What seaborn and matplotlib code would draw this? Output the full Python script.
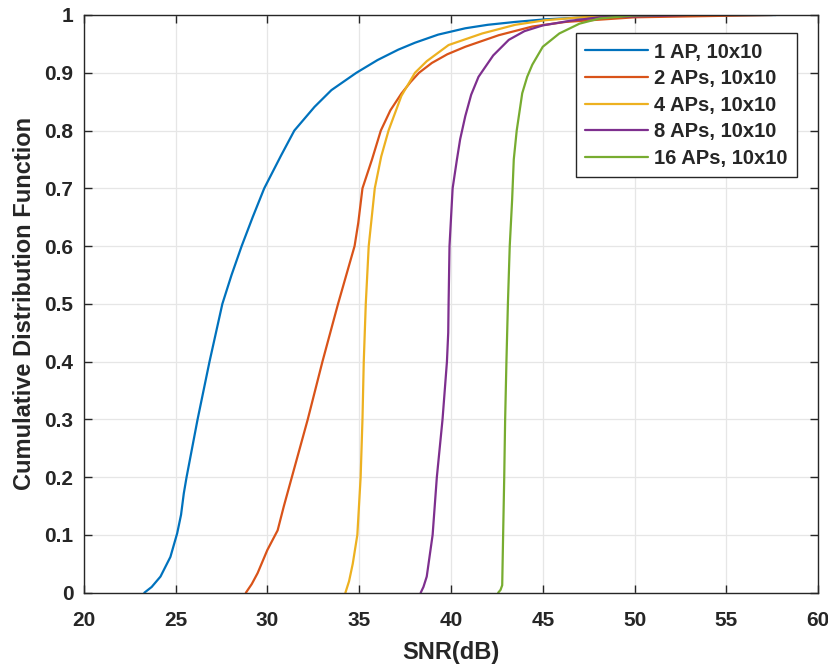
import matplotlib
matplotlib.use("Agg")
import matplotlib.pyplot as plt
import seaborn as sns
import pandas as pd

# ---- data (SNR in dB, CDF level) ----
labels = ["1 AP, 10x10", "2 APs, 10x10", "4 APs, 10x10", "8 APs, 10x10", "16 APs, 10x10"]
colors = ["#0072BD", "#D95319", "#EDB120", "#7E2F8E", "#77AC30"]

snr_1ap = [23.3, 23.7, 24.18, 24.72, 25.09, 25.3, 25.45, 25.6, 26.2, 26.85, 27.55, 28.05, 28.6,
           29.2, 29.83, 30.75, 31.47, 32.57, 33.49, 34.85, 36.0, 37.13, 38.04, 39.3,
           40.78, 42.0, 43.5, 45.15, 48.0, 52.0, 57.7]
cdf_1ap = [0.0, 0.01, 0.028, 0.062, 0.103, 0.135, 0.172, 0.2, 0.3, 0.4, 0.5, 0.55, 0.6,
           0.65, 0.7, 0.757, 0.8, 0.841, 0.87, 0.9, 0.922, 0.94, 0.952, 0.966,
           0.977, 0.983, 0.988, 0.9925, 0.997, 0.999, 1.0]

snr_2ap = [28.83, 29.15, 29.47, 30.0, 30.56, 30.9, 31.29, 32.2, 33.0, 33.85, 34.75, 34.95,
           35.18, 35.7, 36.18, 36.7, 37.3, 37.8, 38.26, 38.96, 39.8, 40.78, 42.6, 44.43,
           46.25, 50.0, 57.5]
cdf_2ap = [0.0, 0.015, 0.034, 0.074, 0.108, 0.15, 0.195, 0.3, 0.4, 0.5, 0.6, 0.64,
           0.7, 0.75, 0.8, 0.835, 0.864, 0.884, 0.9, 0.917, 0.932, 0.945, 0.965, 0.98,
           0.988, 0.996, 1.0]

snr_4ap = [34.25, 34.45, 34.65, 34.9, 35.08, 35.18, 35.25, 35.36, 35.52, 35.85, 36.2, 36.6,
           37.3, 38.04, 38.68, 39.87, 41.7, 43.5, 45.15, 47.5, 51.4]
cdf_4ap = [0.0, 0.02, 0.05, 0.1, 0.2, 0.3, 0.4, 0.5, 0.6, 0.7, 0.755, 0.8,
           0.86, 0.9, 0.92, 0.948, 0.968, 0.983, 0.991, 0.997, 1.0]

snr_8ap = [38.35, 38.5, 38.68, 39.0, 39.23, 39.54, 39.78, 39.85, 39.87, 39.92, 40.09, 40.32,
           40.5, 40.78, 41.1, 41.5, 42.3, 43.15, 44.0, 45.0, 46.5, 48.1, 52.8]
cdf_8ap = [0.0, 0.01, 0.028, 0.1, 0.2, 0.3, 0.4, 0.45, 0.5, 0.6, 0.7, 0.749,
           0.785, 0.825, 0.862, 0.893, 0.93, 0.957, 0.972, 0.982, 0.99, 0.996, 1.0]

snr_16ap = [42.57, 42.7, 42.79, 42.84, 42.9, 42.95, 43.02, 43.1, 43.2, 43.33, 43.42, 43.58,
            43.88, 44.15, 44.43, 45.0, 45.9, 47.0, 48.1, 49.9, 51.4]
cdf_16ap = [0.0, 0.005, 0.013, 0.1, 0.2, 0.3, 0.4, 0.5, 0.6, 0.68, 0.75, 0.8,
            0.8645, 0.893, 0.914, 0.945, 0.968, 0.985, 0.994, 0.999, 1.0]

x_ticks = [20, 25, 30, 35, 40, 45, 50, 55, 60]
y_ticks = [0, 0.1, 0.2, 0.3, 0.4, 0.5, 0.6, 0.7, 0.8, 0.9, 1.0]
y_tick_labels = ["0", "0.1", "0.2", "0.3", "0.4", "0.5", "0.6", "0.7", "0.8", "0.9", "1"]

series = [(snr_1ap, cdf_1ap), (snr_2ap, cdf_2ap), (snr_4ap, cdf_4ap),
          (snr_8ap, cdf_8ap), (snr_16ap, cdf_16ap)]
frames = []
for lab, (xs, ys) in zip(labels, series):
    frames.append(pd.DataFrame({"snr": xs, "cdf": ys, "series": lab}))
df = pd.concat(frames, ignore_index=True)

# ---- style ----
sns.set_theme(style="white")
plt.rcParams["font.family"] = ["Liberation Sans", "DejaVu Sans"]
plt.rcParams["font.weight"] = "bold"

fig = plt.figure(figsize=(8.29, 6.66), dpi=100)
ax = fig.add_axes([0.101, 0.110, 0.886, 0.8675])

sns.lineplot(data=df, x="snr", y="cdf", hue="series", hue_order=labels,
             palette=colors, sort=False, estimator=None, units="series",
             linewidth=1.6, ax=ax, legend=True)

ax.set_xlim(20, 60)
ax.set_ylim(0, 1)
ax.set_xticks(x_ticks)
ax.set_yticks(y_ticks)
ax.set_yticklabels(y_tick_labels)
ax.grid(True, color="#e6e6e6", linewidth=0.9)
ax.set_axisbelow(True)

for sp in ax.spines.values():
    sp.set_color("#262626")
    sp.set_linewidth(1.0)

ax.tick_params(axis="both", which="both", direction="in", length=6, width=1.0,
               color="#262626", labelcolor="#262626", labelsize=15,
               top=True, right=True, bottom=True, left=True)
ax.tick_params(axis="x", pad=13)
ax.tick_params(axis="y", pad=7.5)
for t in ax.get_xticklabels() + ax.get_yticklabels():
    t.set_fontweight("bold")

ax.set_xlabel("SNR(dB)", fontsize=17, fontweight="bold", color="#262626", labelpad=8)
ax.set_ylabel("Cumulative Distribution Function", fontsize=17, fontweight="bold",
              color="#262626", labelpad=6)

handles, labs = ax.get_legend_handles_labels()
leg = ax.legend(handles, labs, loc="upper right", bbox_to_anchor=(0.971, 0.968),
                borderaxespad=0, fancybox=False, frameon=True, framealpha=1,
                edgecolor="#262626", handlelength=3.15,
                handletextpad=0.3, labelspacing=0.38, borderpad=0.45,
                prop={"weight": "bold", "size": 14.5})
leg.get_frame().set_linewidth(1.0)
for line in leg.get_lines():
    line.set_linewidth(1.6)

fig.savefig("out.png", dpi=100)
